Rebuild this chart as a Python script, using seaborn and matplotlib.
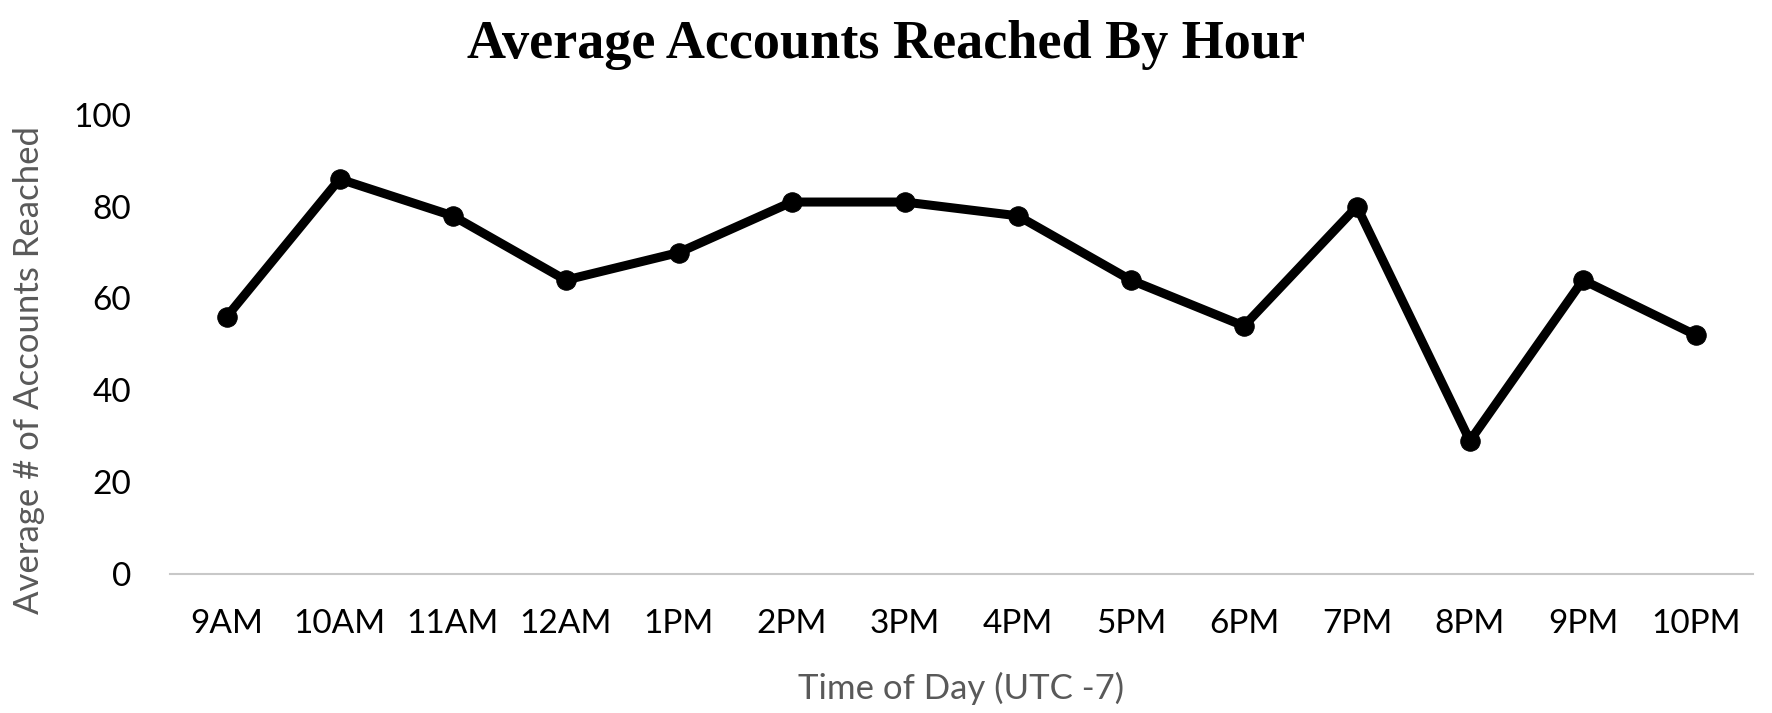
import matplotlib
matplotlib.use("Agg")
import matplotlib.pyplot as plt
import seaborn as sns
import pandas as pd

hours = ["9AM", "10AM", "11AM", "12AM", "1PM", "2PM", "3PM", "4PM",
         "5PM", "6PM", "7PM", "8PM", "9PM", "10PM"]
reach = [56, 86, 78, 64, 70, 81, 81, 78, 64, 54, 80, 29, 64, 52]
yticks = [0, 20, 40, 60, 80, 100]

df = pd.DataFrame({"hour": hours, "reach": reach})

sns.set_theme(style="white")
plt.rcParams['font.family'] = ['Lato', 'DejaVu Sans']

fig = plt.figure(figsize=(17.72, 7.13), dpi=100)
ax = fig.add_axes([0.096, 0.195, 0.893, 0.644])

sns.lineplot(data=df, x="hour", y="reach", ax=ax, color="black",
             linewidth=6.5, marker="o", markersize=14, markeredgecolor="black",
             sort=False, clip_on=False)

ax.set_xlim(-0.5, len(hours) - 0.5)
ax.set_ylim(0, 100)
ax.set_yticks(yticks)
ax.set_yticklabels([str(v) for v in yticks])
ax.tick_params(axis="y", length=0, pad=28, labelsize=24, labelcolor="black")
ax.tick_params(axis="x", length=0, pad=25, labelsize=24, labelcolor="black")

for s in ["top", "right", "left"]:
    ax.spines[s].set_visible(False)
ax.spines["bottom"].set_color("#c8c8c8")
ax.spines["bottom"].set_linewidth(1.5)

ax.set_xlabel("Time of Day (UTC -7)", fontsize=25, color="#595959", labelpad=24)
ax.set_ylabel("Average # of Accounts Reached", fontsize=25, color="#595959")
ax.yaxis.set_label_coords(-0.079, 0.445)

fig.suptitle("Average Accounts Reached By Hour", x=0.5, y=0.972,
             fontsize=39, fontweight="bold", family="Liberation Serif",
             color="black")

fig.savefig("out.png", dpi=100, facecolor="white")
